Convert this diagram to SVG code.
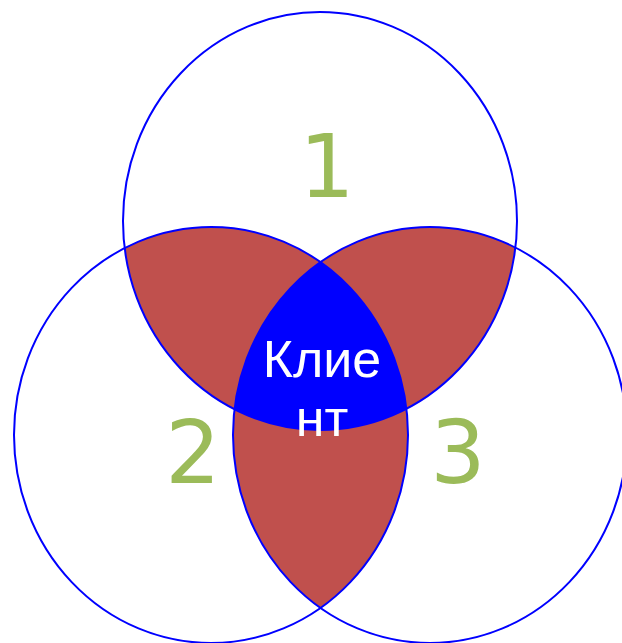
<svg xmlns="http://www.w3.org/2000/svg" width="622" height="643" viewBox="0 0 622 643">
<style>
.ring{fill:none;stroke:#0000FF;stroke-width:2}
.pair{fill:#C0504D}
.core{fill:#0000FF}
.num{font-family:"DejaVu Sans",sans-serif;font-size:87px;fill:#9BBB59;text-anchor:middle}
.lbl{font-family:"Liberation Sans",Arial,sans-serif;font-size:52px;fill:#FFFFFF;text-anchor:middle}
</style>
<defs>
<clipPath id="cA"><ellipse cx="320" cy="221" rx="197" ry="209"/></clipPath>
<clipPath id="cB"><ellipse cx="211" cy="435" rx="197" ry="208"/></clipPath>
<clipPath id="cC"><ellipse cx="430" cy="435" rx="197" ry="208"/></clipPath>
</defs>
<rect width="622" height="643" fill="#FFFFFF"/>
<g id="overlaps">
<ellipse class="pair" cx="211" cy="435" rx="197" ry="208" clip-path="url(#cA)"/>
<ellipse class="pair" cx="430" cy="435" rx="197" ry="208" clip-path="url(#cA)"/>
<ellipse class="pair" cx="430" cy="435" rx="197" ry="208" clip-path="url(#cB)"/>
<g clip-path="url(#cA)"><ellipse class="core" cx="430" cy="435" rx="197" ry="208" clip-path="url(#cB)"/></g>
</g>
<g id="set1"><ellipse class="ring" cx="320" cy="221" rx="197" ry="209"/><text class="num" x="327" y="197">1</text></g>
<g id="set2"><ellipse class="ring" cx="211" cy="435" rx="197" ry="208"/><text class="num" x="193" y="483">2</text></g>
<g id="set3"><ellipse class="ring" cx="430" cy="435" rx="197" ry="208"/><text class="num" x="458" y="483">3</text></g>
<g id="client"><text class="lbl" x="322" y="377">Клие</text><text class="lbl" x="322" y="436">нт</text></g>
</svg>
